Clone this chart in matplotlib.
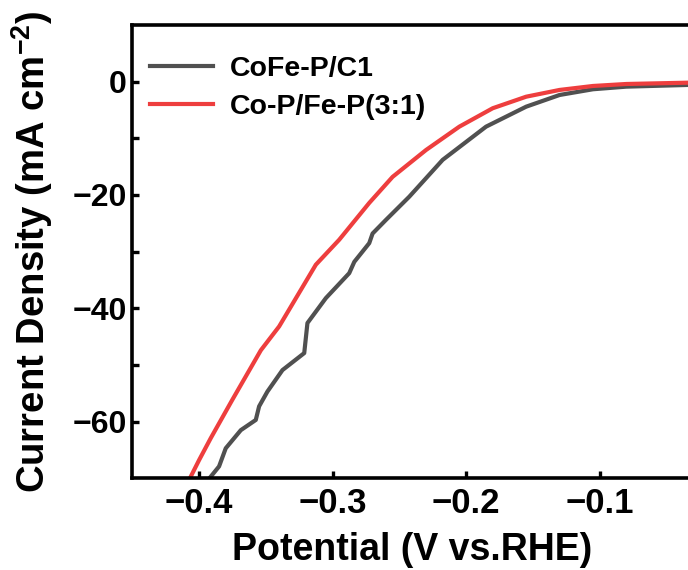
"""LSV polarization curves: CoFe-P/C1 vs Co-P/Fe-P(3:1)."""

import matplotlib
matplotlib.use("Agg")
import matplotlib.pyplot as plt

# potentials (V vs. RHE) and current densities (mA cm-2)
cofe_x = [-0.3912, -0.3850, -0.3800, -0.3687, -0.3575, -0.3550, -0.3488, -0.3375,
          -0.3212, -0.3188, -0.3050, -0.2875, -0.2837, -0.2725, -0.2700, -0.2600,
          -0.2425, -0.2175, -0.1850, -0.1549, -0.1299, -0.1049, -0.0799, -0.0339, 0.0]
cofe_y = [-69.7, -67.9, -64.7, -61.5, -59.7, -57.3, -54.7, -50.9,
          -47.9, -42.6, -38.2, -33.8, -31.8, -28.5, -26.8, -24.4,
          -20.3, -13.8, -7.94, -4.41, -2.35, -1.34, -0.88, -0.58, -0.5]

cop_x = [-0.4062, -0.4000, -0.3912, -0.3752, -0.3537, -0.3400, -0.3125, -0.2950,
         -0.2725, -0.2550, -0.2299, -0.2050, -0.1800, -0.1549, -0.1299,
         -0.1049, -0.0799, -0.0339, 0.0]
cop_y = [-69.7, -66.8, -62.9, -56.2, -47.4, -43.2, -32.3, -27.9,
         -21.4, -16.8, -12.05, -7.94, -4.69, -2.65, -1.46,
         -0.76, -0.41, -0.18, -0.15]

labels = ["CoFe-P/C1", "Co-P/Fe-P(3:1)"]
colors = ["#505050", "#ee3e3e"]
x_ticks = [-0.4, -0.3, -0.2, -0.1]
y_ticks = [0, -20, -40, -60]

plt.rcParams["font.family"] = "Liberation Sans"
plt.rcParams["font.weight"] = "bold"
plt.rcParams["mathtext.fontset"] = "custom"
plt.rcParams["mathtext.rm"] = "Liberation Sans:bold"
plt.rcParams["mathtext.default"] = "rm"

W, H = 688, 570
fig = plt.figure(figsize=(W / 100, H / 100), dpi=100)
# right spine sits past the edge of the picture, as in the cropped original
ax = fig.add_axes([132.3 / W, (H - 478.3) / H, (733 - 132.3) / W, 453.3 / H])

ax.plot(cofe_x, cofe_y, color=colors[0], lw=3.0, label=labels[0])
ax.plot(cop_x, cop_y, color=colors[1], lw=3.0, label=labels[1])

ax.set_xlim(-0.45, 0.0)
ax.set_ylim(-70, 10)
ax.set_xticks(x_ticks)
ax.set_xticklabels([f"{v:.1f}".replace("-", "\u2212") for v in x_ticks])
ax.set_yticks(y_ticks)
ax.set_yticklabels([f"{v:d}".replace("-", "\u2212") for v in y_ticks])
ax.set_yticks([-10, -30, -50], minor=True)

for s in ax.spines.values():
    s.set_linewidth(2.6)
ax.tick_params(axis="both", which="both", direction="in", width=2.4, length=5)
ax.tick_params(axis="x", pad=6.5, labelsize=25)
ax.tick_params(axis="y", pad=4, labelsize=23)

ax.set_xlabel("Potential (V vs.RHE)", fontsize=27, fontweight="bold")
ax.set_ylabel("Current Density (mA cm$^{-2}$)", fontsize=27.5, fontweight="bold")
ax.xaxis.set_label_coords((412 - 132.3) / (733 - 132.3), -0.118)
ax.yaxis.set_label_coords(-0.129, 0.5)

ax.legend(loc="upper left", bbox_to_anchor=(150 / W, 1 - 56 / H),
          bbox_transform=fig.transFigure, frameon=False, fontsize=20.5,
          handlelength=2.2, handletextpad=0.6, labelspacing=0.43,
          borderpad=0, borderaxespad=0)

fig.savefig("out.png", dpi=100)
